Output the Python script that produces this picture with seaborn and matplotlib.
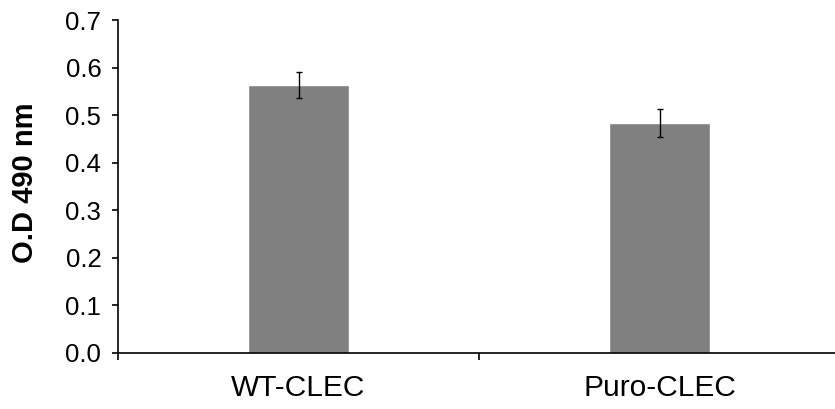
import numpy as np
import matplotlib as mpl
mpl.use('Agg')
import matplotlib.pyplot as plt
import seaborn as sns
import pandas as pd

groups = ['WT-CLEC', 'Puro-CLEC']
od_mean = [0.564, 0.484]
od_err = [0.027, 0.029]
y_ticks = [0.0, 0.1, 0.2, 0.3, 0.4, 0.5, 0.6, 0.7]

sns.set_style('white')
plt.rcParams['font.family'] = ['Liberation Sans', 'DejaVu Sans']
plt.rcParams['text.color'] = 'black'
plt.rcParams['axes.labelcolor'] = 'black'
plt.rcParams['xtick.color'] = 'black'
plt.rcParams['ytick.color'] = 'black'

df = pd.DataFrame({'group': groups, 'od': od_mean})

fig = plt.figure(figsize=(8.35, 4.09), dpi=100)
ax = fig.add_axes([118/835, 56/409, 722/835, 333/409])

sns.barplot(data=df, x='group', y='od', color='#808080', saturation=1,
            width=0.28, ax=ax, errorbar=None)
ax.errorbar(x=np.arange(len(groups)), y=od_mean, yerr=od_err, fmt='none',
            ecolor='black', elinewidth=1.0, capsize=2.3, capthick=1.0)

ax.set_xlim(-0.5, 1.5)
ax.set_ylim(0, 0.7)
ax.set_yticks(y_ticks)
ax.set_yticklabels(['%.1f' % v for v in y_ticks])
ax.set_xticks(range(len(groups)))
ax.set_xticklabels(groups)
ax.set_xticks([-0.5, 0.5, 1.5], minor=True)

ax.tick_params(axis='y', direction='out', length=4.5, width=1.2, pad=7.5,
               labelsize=18.5, left=True, color='black', labelcolor='black')
ax.tick_params(axis='x', which='major', length=0, pad=15, labelsize=21.5,
               labelcolor='black')
ax.tick_params(axis='x', which='minor', direction='out', length=5, width=1.2,
               bottom=True, color='black')

for side in ['top', 'right']:
    ax.spines[side].set_visible(False)
for side in ['left', 'bottom']:
    ax.spines[side].set_color('black')
    ax.spines[side].set_linewidth(1.2)

ax.set_xlabel('')
ax.set_ylabel('O.D 490 nm', fontsize=21, fontweight='bold', color='black')
ax.yaxis.set_label_coords(-0.109, 0.51)

fig.savefig('out.png', dpi=100)
